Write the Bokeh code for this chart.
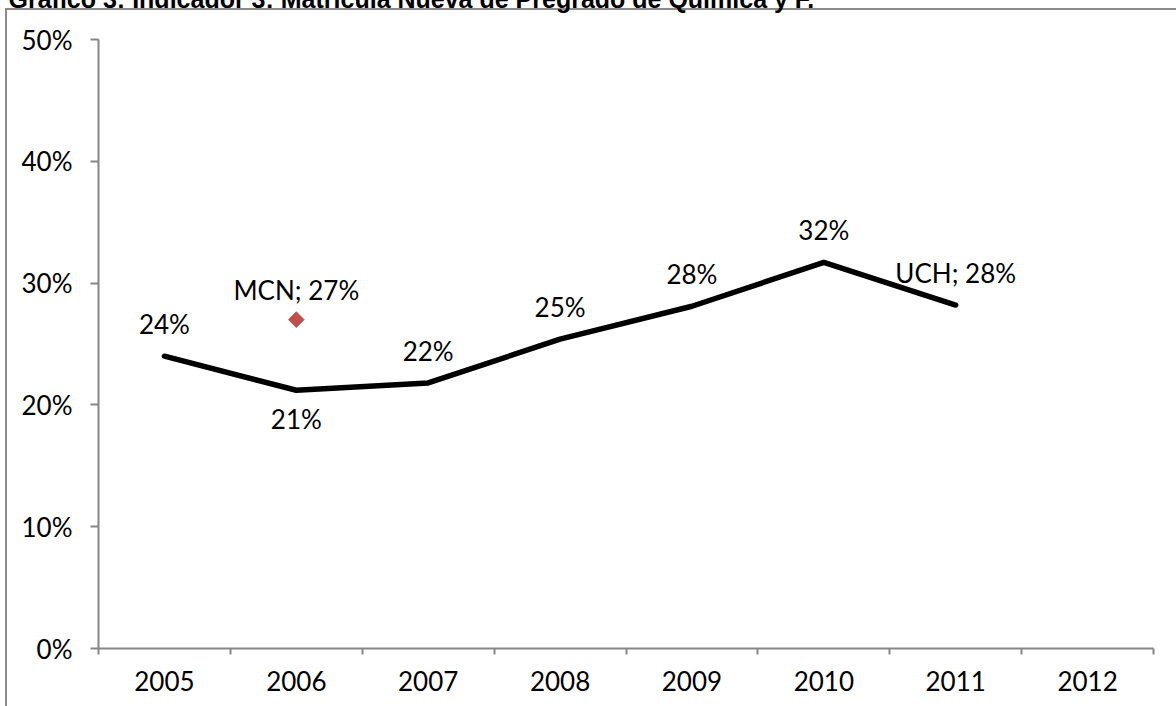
from bokeh.plotting import figure
from bokeh.models import (Range1d, FixedTicker, CustomJSTickFormatter, NumeralTickFormatter,
                          ColumnDataSource, Label)
from bokeh.embed import file_html
from bokeh.resources import INLINE
from bokeh.core.properties import value

# ---- data ----
years = ["2005", "2006", "2007", "2008", "2009", "2010", "2011", "2012"]
uch_years = ["2005", "2006", "2007", "2008", "2009", "2010", "2011"]
uch_values = [0.240, 0.212, 0.218, 0.254, 0.281, 0.317, 0.282]
uch_labels = ["24%", "21%", "22%", "25%", "28%", "32%", "UCH; 28%"]
uch_label_side = ["above", "below", "above", "above", "above", "above", "above"]
mcn_years = ["2006"]
mcn_values = [0.270]
mcn_labels = ["MCN; 27%"]
y_ticks = [0.0, 0.1, 0.2, 0.3, 0.4, 0.5]
title_text = "Gráfico 3: Indicador 3: Matrícula Nueva de Pregrado de Química y F."

# ---- layout constants (canvas pixels) ----
W, H = 1176, 706
FL, FR, FT, FB = 98, 1153, 39, 648
AX = "#868686"
BORDER = "#8c8c8c"
FONT = "Lato"
FS = "26px"

x_of = lambda yr: years.index(yr) + 0.5
side_off = {"above": -32, "below": 29}

p = figure(width=W, height=H, x_range=Range1d(0, len(years)), y_range=Range1d(0, 0.5),
           output_backend="svg", toolbar_location=None,
           min_border_left=FL, min_border_right=W - FR,
           min_border_top=FT, min_border_bottom=H - FB,
           background_fill_color="white", border_fill_color=None,
           outline_line_color=None)
# page background with the outer chart-box border (left and top edges visible)
p.styles = {
    "background": (f"linear-gradient({BORDER},{BORDER}) 5px 8px / 2px 100% no-repeat, "
                   f"linear-gradient({BORDER},{BORDER}) 5px 8px / 100% 2px no-repeat, white"),
}
p.xgrid.visible = False
p.ygrid.visible = False

# y axis
ya = p.yaxis[0]
ya.ticker = FixedTicker(ticks=y_ticks, minor_ticks=[])
ya.formatter = NumeralTickFormatter(format="0%")
ya.axis_line_color = AX
ya.axis_line_width = 2
ya.major_tick_line_color = AX
ya.major_tick_line_width = 2
ya.major_tick_in = 0
ya.major_tick_out = 8
ya.minor_tick_line_color = None
ya.major_label_standoff = 18
ya.major_label_text_font = FONT
ya.major_label_text_font_size = FS
ya.major_label_text_color = "black"

# x axis
xa = p.xaxis[0]
xa.ticker = FixedTicker(ticks=[i + 0.5 for i in range(len(years))],
                        minor_ticks=list(range(len(years) + 1)))
xa.formatter = CustomJSTickFormatter(args=dict(labels=years),
                                     code="return labels[Math.floor(tick)];")
xa.axis_line_color = AX
xa.axis_line_width = 2
xa.major_tick_line_color = None
xa.minor_tick_line_color = AX
xa.minor_tick_line_width = 2
xa.minor_tick_in = 0
xa.minor_tick_out = 6
xa.major_label_standoff = 16
xa.major_label_text_font = FONT
xa.major_label_text_font_size = FS
xa.major_label_text_color = "black"

# title (partially cut at the top, as in the source); in a side panel so it is not
# clipped to the plotting frame
p.add_layout(Label(x=8, y=-2, x_units="canvas", y_units="canvas", text=title_text,
                   text_font="Liberation Sans",
                   text_font_style="bold", text_font_size="25px", text_color="black",
                   text_baseline="alphabetic", text_align="left"), "above")

# UCH series
src = ColumnDataSource(dict(x=[x_of(y) for y in uch_years], y=uch_values, lab=uch_labels,
                            off=[side_off[s] for s in uch_label_side]))
p.line("x", "y", source=src, line_color="black", line_width=5.5, line_cap="round")
p.text("x", "y", text="lab", source=src, y_offset="off", text_align="center",
       text_baseline="middle", text_font=value(FONT), text_font_size=FS, text_color="black")

# MCN point
msrc = ColumnDataSource(dict(x=[x_of(y) for y in mcn_years], y=mcn_values, lab=mcn_labels))
p.scatter("x", "y", source=msrc, marker="square", angle=0.785398, size=11,
          fill_color="#C0504D", line_color="#C0504D")
p.text("x", "y", text="lab", source=msrc, y_offset=-30, text_align="center",
       text_baseline="middle", text_font=value(FONT), text_font_size=FS, text_color="black")

open("out.html", "w").write(file_html(p, INLINE))
